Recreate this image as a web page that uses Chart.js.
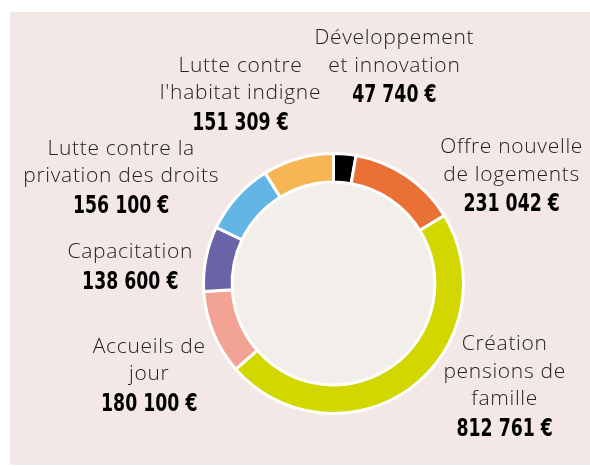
<!DOCTYPE html>
<html>
<head>
<meta charset="utf-8">
<script src="https://cdn.jsdelivr.net/npm/chart.js@4.4.1/dist/chart.umd.min.js"></script>
<style>
  html, body { margin: 0; padding: 0; background: #fff; }
  #wrap { position: relative; width: 590px; height: 467px; }
  #panel { position: absolute; left: 10px; top: 12px; width: 580px; height: 453px; background: #f3e8e6; }
  canvas { position: absolute; left: 0; top: 0; }
</style>
</head>
<body>
<div id="wrap">
  <div id="panel"></div>
  <canvas id="budgetChart" width="590" height="467"></canvas>
</div>
<script>
const categories = [
    ["Développement", "et innovation"],
    ["Offre nouvelle", "de logements"],
    ["Création", "pensions de", "famille"],
    ["Accueils de", "jour"],
    ["Capacitation"],
    ["Lutte contre la", "privation des droits"],
    ["Lutte contre", "l'habitat indigne"]
];
const amounts = [47740, 231042, 812761, 180100, 138600, 156100, 151309];
const colors = ["#000000", "#e97135", "#d2d700", "#f3a394", "#6a63a8", "#62b5e5", "#f8b553"];

// where each label block sits: angle (deg, clockwise from top) and distance in outer radii
const labelAngles = [15.7, 58.9, 121.1, 243.4, 274.5, 296.5, 333.8];
const labelDistances = [1.73, 1.60, 1.538, 1.585, 1.568, 1.825, 1.62];

function formatEuro(v) {
    return String(v).replace(/\B(?=(\d{3})+(?!\d))/g, " ") + " €";
}

// light grey disc inside the ring
const innerDisc = {
    id: 'innerDisc',
    beforeDatasetsDraw(chart) {
        const arc = chart.getDatasetMeta(0).data[0];
        if (!arc) return;
        const ctx = chart.ctx;
        ctx.save();
        ctx.beginPath();
        ctx.arc(arc.x, arc.y, arc.innerRadius, 0, Math.PI * 2);
        ctx.fillStyle = "#f2efeb";
        ctx.fill();
        ctx.restore();
    }
};

// text labels around the ring
const outerLabels = {
    id: 'outerLabels',
    afterDraw(chart) {
        const arcs = chart.getDatasetMeta(0).data;
        const ctx = chart.ctx;
        const lineH = 27.5;
        const valueGap = 30;
        const squeeze = 0.77; // values are set in a condensed face
        ctx.save();
        ctx.textAlign = "center";
        ctx.textBaseline = "middle";
        arcs.forEach(function(arc, i) {
            const a = labelAngles[i] * Math.PI / 180;
            const r = arc.outerRadius * labelDistances[i];
            const cx = arc.x + Math.sin(a) * r;
            const cy = arc.y - Math.cos(a) * r;
            const lines = categories[i];
            const total = (lines.length - 1) * lineH + valueGap;
            let y = cy - total / 2;
            ctx.fillStyle = "#222";
            ctx.font = "300 21px 'Open Sans', 'Noto Sans', sans-serif";
            ctx.letterSpacing = "0.7px";
            lines.forEach(function(t, k) {
                ctx.fillText(t, cx, y + k * lineH);
            });
            ctx.letterSpacing = "0px";
            ctx.fillStyle = "#000";
            ctx.font = "bold 25px 'DejaVu Sans Condensed', 'DejaVu Sans', sans-serif";
            ctx.save();
            ctx.translate(cx, y + (lines.length - 1) * lineH + valueGap);
            ctx.scale(squeeze, 1);
            ctx.fillText(formatEuro(amounts[i]), 0, 0);
            ctx.restore();
        });
        ctx.restore();
    }
};

const ctx = document.getElementById('budgetChart').getContext('2d');
new Chart(ctx, {
    type: 'doughnut',
    data: {
        labels: categories.map(l => l.join(" ")),
        datasets: [{
            data: amounts,
            backgroundColor: colors,
            borderColor: "#ffffff",
            borderWidth: 3
        }]
    },
    options: {
        responsive: false,
        animation: false,
        cutout: '78%',
        rotation: 0,
        layout: {
            padding: { left: 202, right: 125, top: 152, bottom: 52 }
        },
        plugins: {
            legend: { display: false },
            tooltip: { enabled: false }
        }
    },
    plugins: [innerDisc, outerLabels]
});
</script>
</body>
</html>
